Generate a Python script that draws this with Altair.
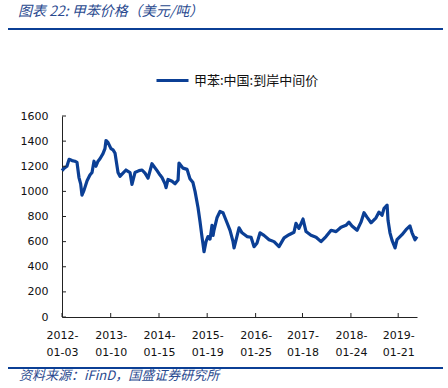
import altair as alt
import pandas as pd

title_text = "图表 22:  甲苯价格（美元/吨）"
source_text = "资料来源：iFinD，国盛证券研究所"
series_name = "甲苯:中国:到岸中间价"

dates = [
    "2012-01-03", "2012-01-20", "2012-02-10", "2012-02-26", "2012-03-20", "2012-04-10",
    "2012-04-27", "2012-05-12", "2012-05-25", "2012-06-04", "2012-06-20", "2012-07-13",
    "2012-08-04", "2012-08-20", "2012-09-04", "2012-09-19", "2012-10-05", "2012-10-20",
    "2012-11-12", "2012-11-27", "2012-12-05", "2012-12-20", "2013-01-12", "2013-01-28",
    "2013-02-12", "2013-03-07", "2013-03-22", "2013-04-14", "2013-05-07", "2013-06-07",
    "2013-06-22", "2013-07-15", "2013-08-15", "2013-09-07", "2013-09-30", "2013-10-23",
    "2013-11-22", "2013-12-31", "2014-01-23", "2014-02-07", "2014-03-02", "2014-03-10",
    "2014-03-25", "2014-04-25", "2014-05-18", "2014-06-10", "2014-06-17", "2014-07-18",
    "2014-08-18", "2014-09-09", "2014-10-02", "2014-10-18", "2014-11-10", "2014-11-25",
    "2014-12-10", "2014-12-18", "2014-12-26", "2015-01-10", "2015-01-25", "2015-02-10",
    "2015-02-25", "2015-03-05", "2015-03-12", "2015-04-04", "2015-04-27", "2015-05-20",
    "2015-05-28", "2015-06-20", "2015-07-13", "2015-08-05", "2015-08-13", "2015-09-20",
    "2015-10-13", "2015-11-20", "2015-12-21", "2016-01-13", "2016-02-05", "2016-02-28",
    "2016-03-29", "2016-05-07", "2016-06-14", "2016-07-22", "2016-08-30", "2016-10-07",
    "2016-11-14", "2016-11-29", "2016-12-22", "2017-01-22", "2017-02-14", "2017-03-24",
    "2017-05-02", "2017-06-09", "2017-07-17", "2017-08-25", "2017-10-02", "2017-11-09",
    "2017-12-17", "2018-01-09", "2018-02-01", "2018-03-12", "2018-04-11", "2018-05-04",
    "2018-05-27", "2018-06-27", "2018-08-04", "2018-08-27", "2018-09-19", "2018-10-05",
    "2018-10-28", "2018-11-04", "2018-11-19", "2018-12-05", "2018-12-28", "2019-01-12",
    "2019-02-19", "2019-03-22", "2019-04-21", "2019-05-07", "2019-05-30", "2019-06-14",
]
prices = [
    1165, 1185, 1200, 1255, 1245, 1240,
    1230, 1110, 1060, 970, 1010, 1085,
    1130, 1150, 1240, 1200, 1240, 1260,
    1300, 1340, 1405, 1390, 1340, 1330,
    1305, 1150, 1120, 1145, 1170, 1150,
    1055, 1150, 1165, 1170, 1145, 1105,
    1220, 1165, 1130, 1110, 1060, 1030,
    1095, 1080, 1060, 1090, 1225, 1185,
    1175, 1100, 1070, 1000, 870, 760,
    640, 580, 520, 600, 640, 620,
    730, 650, 690, 790, 840, 830,
    810, 750, 690, 600, 550, 710,
    670, 640, 635, 560, 590, 670,
    650, 615, 600, 560, 630, 655,
    675, 745, 705, 780, 680, 650,
    635, 600, 640, 690, 680, 715,
    730, 755, 725, 690, 755, 830,
    795, 750, 790, 835, 810, 865,
    890, 770, 670, 610, 550, 615,
    655, 695, 725, 670, 615, 640,
]

y_ticks = [0, 200, 400, 600, 800, 1000, 1200, 1400, 1600]
x_tick_dates = ["2012-01-03", "2013-01-10", "2014-01-15", "2015-01-19",
                "2016-01-25", "2017-01-18", "2018-01-24", "2019-01-21"]

W, H = 355, 201
BLUE = "#0b3f95"
TEXT_BLUE = "#2a4a8f"

df = pd.DataFrame({"date": dates, "price": prices, "series": series_name})
ytick_df = pd.DataFrame({"v": y_ticks})
xtick_df = pd.DataFrame({"d": x_tick_dates})
one = pd.DataFrame({"a": [0]})


def dt(s):
    y, m, d = (int(p) for p in s.split("-"))
    return alt.DateTime(year=y, month=m, date=d, utc=True)


x_scale = alt.Scale(domain=[dt(dates[0]), dt(dates[-1])], nice=False)
y_scale = alt.Scale(domain=[0, 1600], nice=False)

x_axis = alt.Axis(values=[dt(s) for s in x_tick_dates], title=None, ticks=False,
                  grid=False, domainColor="#222", labelColor="#111",
                  labelFont="DejaVu Sans", labelFontSize=11, labelPadding=12,
                  labelLineHeight=17, labelAlign="center", labelBaseline="top",
                  labelOverlap=False,
                  labelExpr="[utcFormat(datum.value, '%Y-'), utcFormat(datum.value, '%m-%d')]")
y_axis = alt.Axis(values=y_ticks, title=None, ticks=False, grid=False,
                  domainColor="#222", labelColor="#111", labelFont="DejaVu Sans",
                  labelFontSize=11, labelPadding=14, labelOverlap=False,
                  labelBound=False, labelFlush=False, format="d", tickCount=9)

line = alt.Chart(df).mark_line(strokeWidth=3.2, strokeJoin="round").encode(
    x=alt.X("date:T", scale=x_scale, axis=x_axis),
    y=alt.Y("price:Q", scale=y_scale, axis=y_axis),
    color=alt.Color("series:N", scale=alt.Scale(domain=[series_name], range=[BLUE]),
                    legend=alt.Legend(title=None, orient="none", legendX=93, legendY=-53,
                                      symbolType="stroke", symbolSize=1024,
                                      symbolStrokeWidth=3, labelFont="Noto Sans CJK SC",
                                      labelFontSize=13, labelColor="#111", padding=0,
                                      labelOffset=4)),
)

ytick_marks = alt.Chart(ytick_df).mark_rule(color="#222").encode(
    y=alt.Y("v:Q", scale=y_scale, axis=y_axis), x=alt.value(0), x2=alt.value(4))

xtick_marks = alt.Chart(xtick_df).mark_rule(color="#222").encode(
    x=alt.X("d:T", scale=x_scale, axis=x_axis), y=alt.value(H), y2=alt.value(H - 4))

top_rule = alt.Chart(one).mark_rule(color=BLUE, strokeWidth=2).encode(
    x=alt.value(-54), x2=alt.value(381), y=alt.value(-87))
bottom_rule = alt.Chart(one).mark_rule(color=BLUE, strokeWidth=2).encode(
    x=alt.value(-54), x2=alt.value(381), y=alt.value(252))

title_mark = alt.Chart(one).mark_text(
    text=title_text, align="left", baseline="middle", font="Noto Sans CJK SC",
    fontSize=14, fontStyle="italic", color=TEXT_BLUE).encode(
    x=alt.value(-44), y=alt.value(-104))

source_mark = alt.Chart(one).mark_text(
    text=source_text, align="left", baseline="middle", font="Noto Sans CJK SC",
    fontSize=13, fontStyle="italic", color=TEXT_BLUE).encode(
    x=alt.value(-43), y=alt.value(260))

chart = alt.layer(
    line, ytick_marks, xtick_marks, top_rule, bottom_rule, title_mark, source_mark
).properties(
    width=W, height=H,
    autosize=alt.AutoSizeParams(type="none"),
    padding={"left": 62, "top": 116, "right": 31, "bottom": 71},
    background="white",
).configure_view(stroke=None, strokeWidth=0)

chart.save("out.html", embed_options={"renderer": "svg", "actions": False})
